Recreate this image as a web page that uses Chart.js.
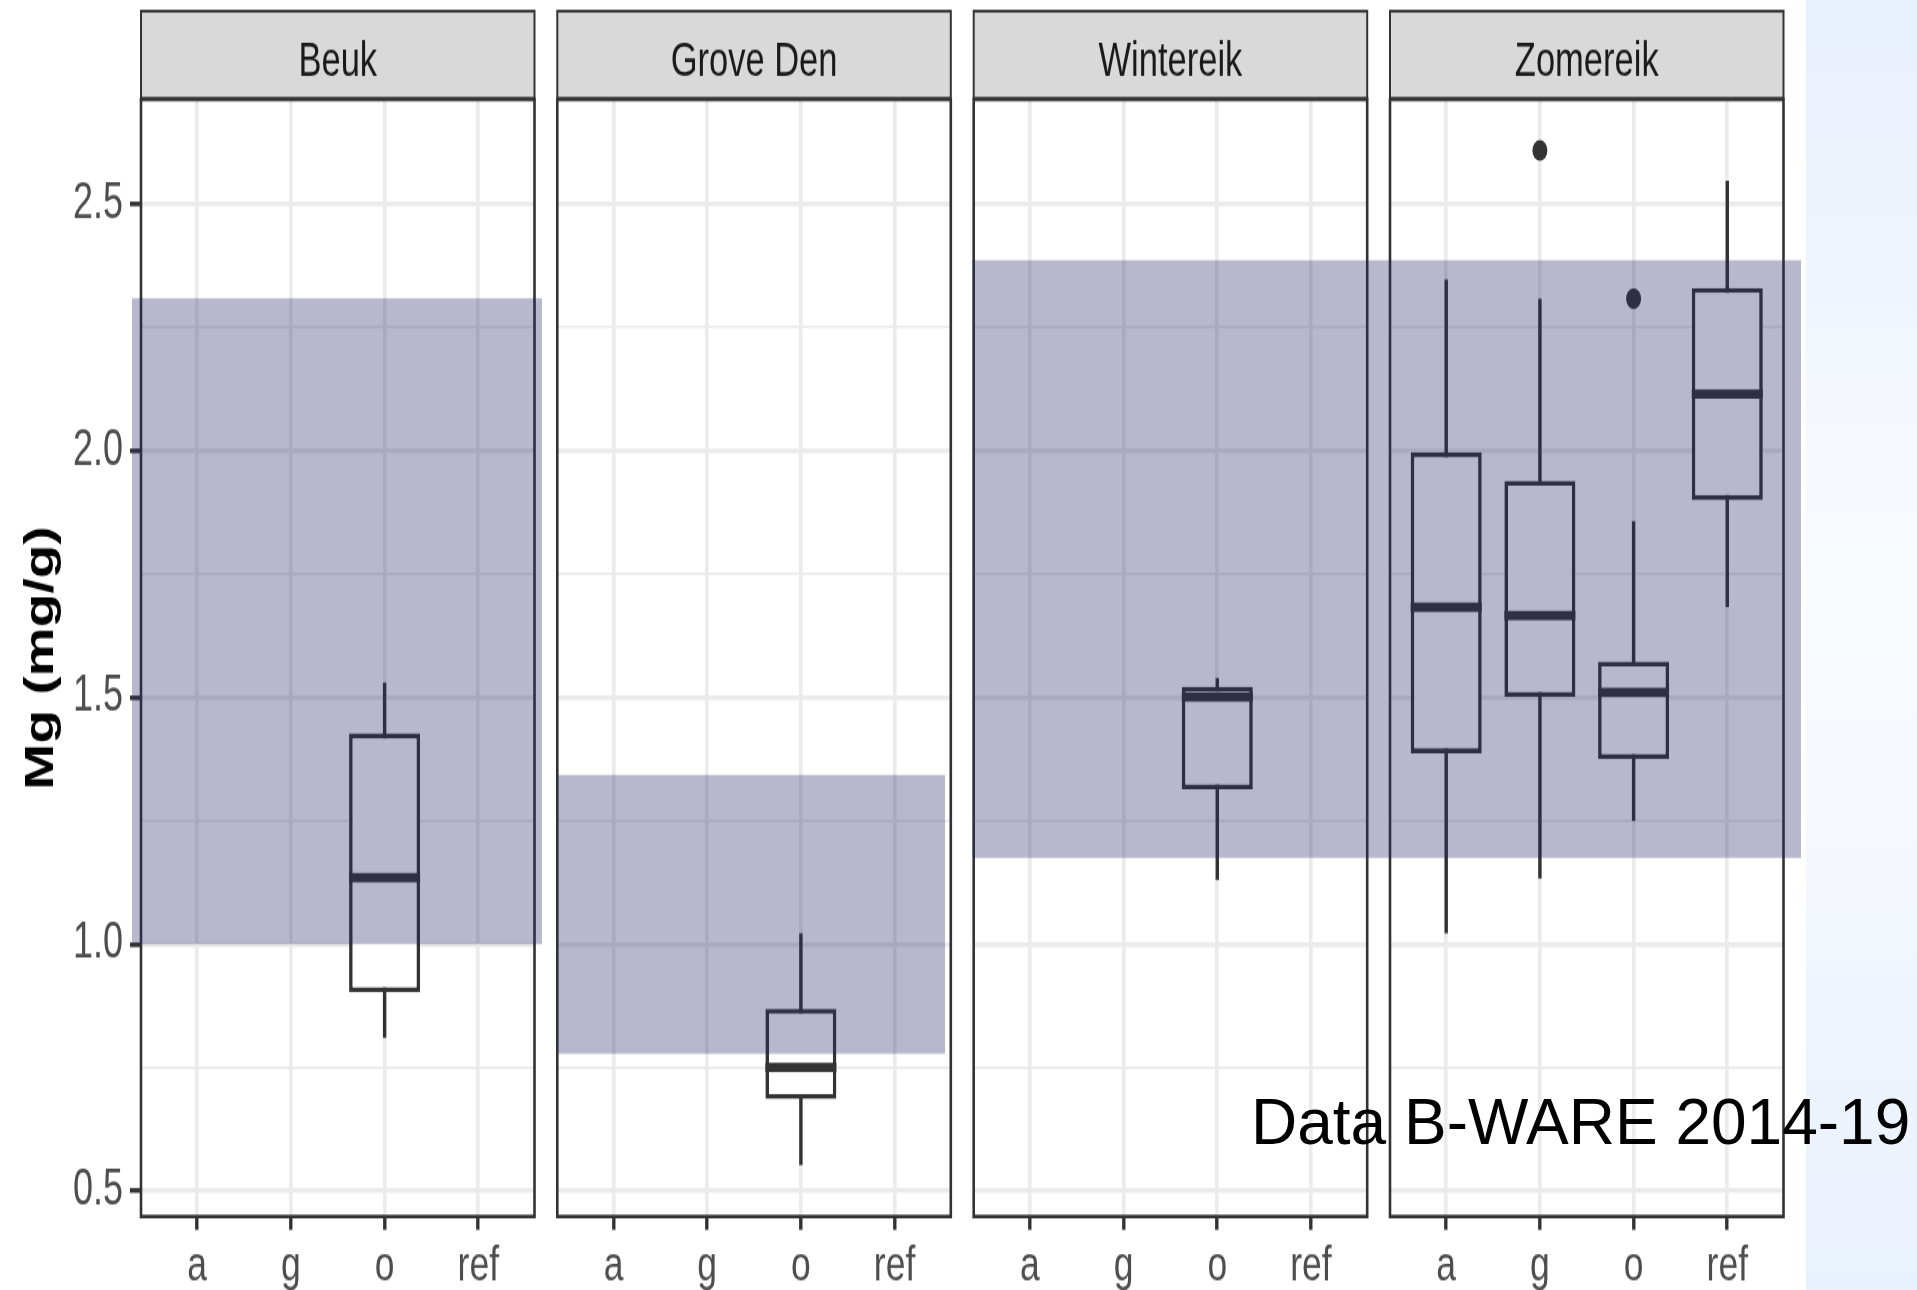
<!DOCTYPE html>
<html>
<head>
<meta charset="utf-8">
<title>Mg (mg/g)</title>
<script src="https://cdn.jsdelivr.net/npm/chart.js@4.4.1/dist/chart.umd.min.js"></script>
<style>
  html, body { margin: 0; padding: 0; background: #fff; }
  body { width: 1917px; height: 1290px; position: relative; overflow: hidden; }
  #side {
    position: absolute; left: 1806px; top: 0; width: 111px; height: 1290px;
    background: linear-gradient(to bottom, #e8f0fd 0%, #eef4fd 18%, #fafbff 45%, #f7f9fe 60%, #eef4fd 82%, #e9f1fd 100%);
  }
  canvas { position: absolute; top: 0; }
  #credit {
    position: absolute; left: 1251px; top: 1090px;
    font: 64px "Liberation Sans", Arial, sans-serif; line-height: 64px;
    color: #000; white-space: nowrap;
  }
</style>
</head>
<body>
<div id="side"></div>
<canvas id="c0"></canvas>
<canvas id="c1"></canvas>
<canvas id="c2"></canvas>
<canvas id="c3"></canvas>
<div id="credit">Data B-WARE 2014-19</div>
<script>
const facets = ["Beuk", "Grove Den", "Wintereik", "Zomereik"];
const groups = ["a", "g", "o", "ref"];
const yMajor = [0.5, 1.0, 1.5, 2.0, 2.5];
const yMinor = [0.75, 1.25, 1.75, 2.25];

// boxplot stats, one list per facet
const boxGroups = [["o"], ["o"], ["o"], ["a", "g", "o", "ref"]];
const whiskerLow = [[0.81], [0.552], [1.13], [1.022, 1.133, 1.25, 1.683]];
const q1 = [[0.903], [0.686], [1.314], [1.387, 1.501, 1.375, 1.90]];
const median = [[1.135], [0.75], [1.501], [1.683, 1.666, 1.51, 2.115]];
const q3 = [[1.427], [0.869], [1.522], [1.997, 1.939, 1.573, 2.33]];
const whiskerHigh = [[1.53], [1.022], [1.539], [2.347, 2.308, 1.857, 2.547]];
const outlierGroups = [[], [], [], ["g", "o"]];
const outlierValues = [[], [], [], [2.609, 2.308]];

// shaded reference band per facet
const bandLow = [1.0, 0.778, 1.175, 1.175];
const bandHigh = [2.309, 1.343, 2.386, 2.386];

// layout (canvas is drawn 935 high and shown 1290 high, like the stretched original)
const H = 935;
const STRIP_TOP = 8.1, PANEL_TOP = 72.1, PANEL_BOTTOM = 881.7;
const panelLeft = [141, 557.3, 973.7, 1390];
const PANEL_W = 393.5;
const canvasLeft = [0, 547, 963, 1380];
const canvasRight = [548, 961, 1393, 1917];
// horizontal reach of the shaded band, in x-axis units
const bandFrom = [0.304, 0.4, 0.386, 0.386];
const bandTo = [4.68, 4.538, 4.829, 4.787];

Chart.defaults.font.family = "'Liberation Sans', Arial, sans-serif";

const isMajor = v => yMajor.includes(v);

const facetPlugin = {
    id: "facet",
    afterDatasetsDraw(chart, args, opts) {
        const i = opts.index;
        const { ctx, chartArea: a } = chart;
        const y = chart.scales.y;
        ctx.save();
        // medians
        ctx.strokeStyle = "#333333";
        ctx.lineWidth = 6.8;
        chart.getDatasetMeta(1).data.forEach((el, k) => {
            const yy = y.getPixelForValue(median[i][k]);
            ctx.beginPath();
            ctx.moveTo(el.x - el.width / 2, yy);
            ctx.lineTo(el.x + el.width / 2, yy);
            ctx.stroke();
        });
        // strip
        ctx.fillStyle = "#d9d9d9";
        ctx.fillRect(a.left, STRIP_TOP, a.width, a.top - STRIP_TOP);
        ctx.lineWidth = 2;
        ctx.strokeRect(a.left, STRIP_TOP, a.width, a.top - 0.8 - STRIP_TOP);
        ctx.fillStyle = "#1a1a1a";
        ctx.font = "34.5px 'Liberation Sans', Arial, sans-serif";
        ctx.textAlign = "center";
        ctx.textBaseline = "alphabetic";
        ctx.fillText(facets[i], (a.left + a.right) / 2, 54.6);
        // panel border
        ctx.lineWidth = 2.6;
        ctx.strokeRect(a.left, a.top, a.width, a.height);
        ctx.restore();
    },
    afterDraw(chart, args, opts) {
        const i = opts.index;
        const { ctx } = chart;
        const { x, y } = chart.scales;
        const x0 = x.getPixelForValue(bandFrom[i]);
        const x1 = x.getPixelForValue(bandTo[i]);
        const y0 = y.getPixelForValue(bandHigh[i]);
        const y1 = y.getPixelForValue(bandLow[i]);
        ctx.save();
        ctx.fillStyle = "rgba(36, 36, 103, 0.33)";
        ctx.fillRect(x0, y0, x1 - x0, y1 - y0);
        ctx.restore();
    }
};

facets.forEach((name, i) => {
    const cv = document.getElementById("c" + i);
    const w = canvasRight[i] - canvasLeft[i];
    cv.width = w;
    cv.height = H;
    cv.style.left = canvasLeft[i] + "px";
    cv.style.width = w + "px";
    cv.style.height = "1290px";

    const first = i === 0;
    const pos = g => groups.indexOf(g) + 1;
    const boxes = boxGroups[i].map((g, k) => ({ x: pos(g), y: [q1[i][k], q3[i][k]] }));
    const whiskers = boxGroups[i].map((g, k) => ({ x: pos(g), y: [whiskerLow[i][k], whiskerHigh[i][k]] }));
    const points = outlierGroups[i].map((g, k) => ({ x: pos(g), y: outlierValues[i][k] }));

    new Chart(cv, {
        type: "bar",
        data: {
            datasets: [
                { data: whiskers, backgroundColor: "#333333", maxBarThickness: 3.4, order: 3 },
                {
                    data: boxes, backgroundColor: "#ffffff", borderColor: "#333333",
                    borderWidth: 3.6, borderSkipped: false, maxBarThickness: 71, order: 2
                },
                {
                    type: "scatter", data: points, backgroundColor: "#333333",
                    pointRadius: 7.5, borderWidth: 0, order: 1
                }
            ]
        },
        options: {
            responsive: false,
            animation: false,
            devicePixelRatio: 1,
            events: [],
            layout: {
                padding: {
                    top: PANEL_TOP,
                    bottom: 0,
                    left: first ? 0 : panelLeft[i] - canvasLeft[i],
                    right: canvasRight[i] - (panelLeft[i] + PANEL_W)
                }
            },
            datasets: {
                bar: { grouped: false, barPercentage: 1, categoryPercentage: 1, inflateAmount: 0 }
            },
            plugins: {
                legend: { display: false },
                tooltip: { enabled: false },
                facet: { index: i }
            },
            scales: {
                x: {
                    type: "linear",
                    min: 0.4,
                    max: 4.6,
                    offset: false,
                    afterBuildTicks: s => { s.ticks = groups.map((g, k) => ({ value: k + 1 })); },
                    afterFit: s => { s.height = H - PANEL_BOTTOM; },
                    ticks: {
                        callback: v => groups[v - 1],
                        color: "#4d4d4d",
                        font: { size: 35.5 },
                        padding: 5.5,
                        maxRotation: 0,
                        autoSkip: false
                    },
                    grid: {
                        offset: false,
                        color: "#ebebeb",
                        lineWidth: 3.6,
                        tickColor: "#333333",
                        tickLength: 9.7,
                        tickWidth: 3.4
                    },
                    border: { display: false }
                },
                y: {
                    min: 0.448,
                    max: 2.712,
                    afterBuildTicks: s => {
                        s.ticks = yMajor.concat(yMinor).sort((p, q) => p - q).map(v => ({ value: v }));
                    },
                    afterFit: s => { s.width = first ? panelLeft[0] : 0; },
                    ticks: {
                        display: first,
                        callback: v => isMajor(v) ? v.toFixed(1) : "",
                        color: "#4d4d4d",
                        font: { size: 36 },
                        padding: 7
                    },
                    grid: {
                        color: "#ebebeb",
                        lineWidth: c => (c.tick && isMajor(c.tick.value)) ? 3.6 : 1.8,
                        drawTicks: first,
                        tickLength: 11,
                        tickWidth: 3.4,
                        tickColor: c => (c.tick && isMajor(c.tick.value)) ? "#333333" : "rgba(0,0,0,0)"
                    },
                    border: { display: false },
                    title: {
                        display: first,
                        text: "Mg (mg/g)",
                        color: "#000000",
                        font: { size: 40, weight: "bold" },
                        padding: { top: 18, bottom: 0 }
                    }
                }
            }
        },
        plugins: [facetPlugin]
    });
});
</script>
</body>
</html>
